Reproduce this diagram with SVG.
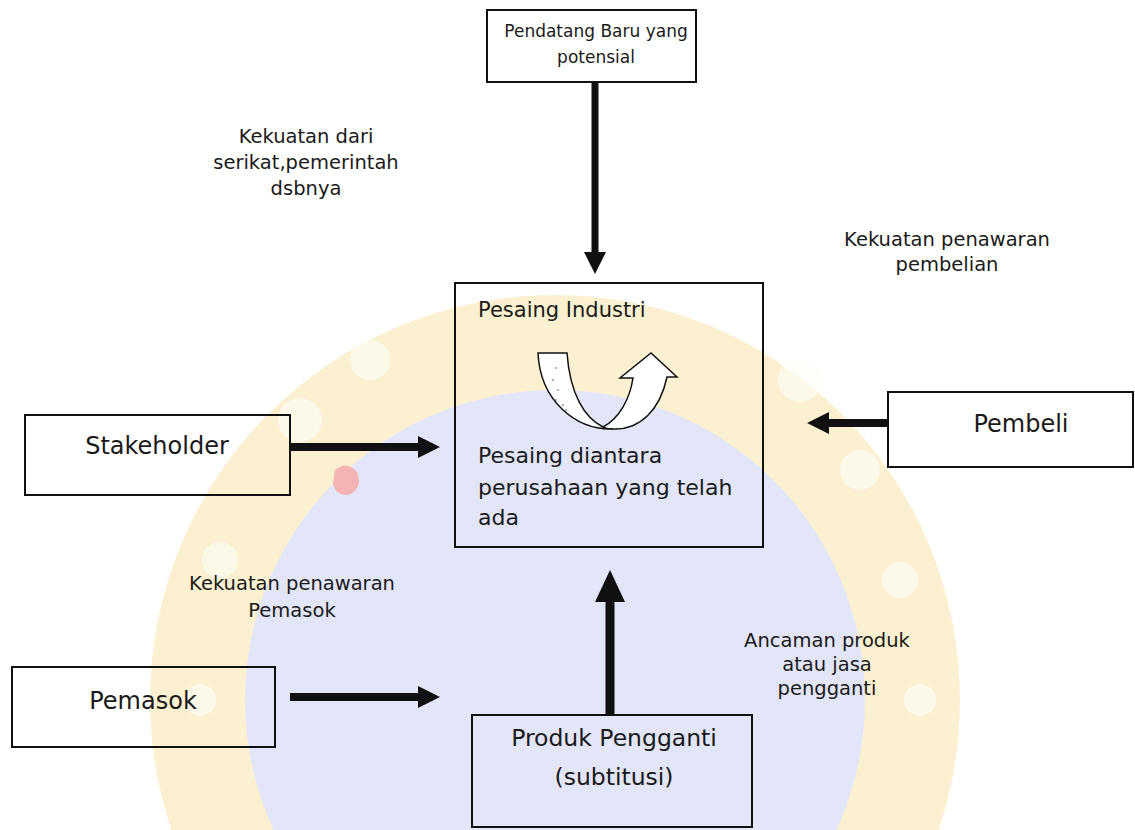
<svg xmlns="http://www.w3.org/2000/svg" width="1135" height="830" viewBox="0 0 1135 830">
<style>
.box{fill:none;stroke:#111;stroke-width:2}
.t{font-family:"DejaVu Sans","Liberation Sans",sans-serif;fill:#1a1a1a}
.lbl{font-size:19.5px;text-anchor:middle}
.conn{stroke:#111;fill:none}
.orn{fill:#fffdf2;opacity:0.6}
</style>
<defs>
<marker id="ah" viewBox="0 0 22 22" refX="0" refY="11" markerWidth="22" markerHeight="22" markerUnits="userSpaceOnUse" orient="auto"><path d="M0,0 L22,11 L0,22 Z" fill="#111"/></marker>
<marker id="ahBig" viewBox="0 0 32 30" refX="0" refY="15" markerWidth="32" markerHeight="30" markerUnits="userSpaceOnUse" orient="auto"><path d="M0,0 L32,15 L0,30 Z" fill="#111"/></marker>
</defs>
<rect width="1135" height="830" fill="#fff"/>
<g id="watermark" opacity="0.45">
<circle cx="555" cy="700" r="405" fill="#f8e29a"/>
<circle cx="555" cy="700" r="310" fill="#c3c8f0"/>
<g class="orn">
<circle cx="300" cy="420" r="22"/><circle cx="370" cy="360" r="20"/><circle cx="800" cy="380" r="22"/><circle cx="860" cy="470" r="20"/>
<circle cx="220" cy="560" r="18"/><circle cx="900" cy="580" r="18"/><circle cx="200" cy="700" r="16"/><circle cx="920" cy="700" r="16"/>
</g>
<path d="M335,470 q12,-10 22,2 q6,14 -6,22 q-14,4 -18,-10 z" fill="#e85a5a"/>
</g>
<g id="connectors">
<path class="conn" d="M595,82 V252" stroke-width="7" marker-end="url(#ah)"/>
<path class="conn" d="M290,447 H418" stroke-width="8" marker-end="url(#ah)"/>
<path class="conn" d="M888,423 H829" stroke-width="8" marker-end="url(#ah)"/>
<path class="conn" d="M290,697 H418" stroke-width="8" marker-end="url(#ah)"/>
<path class="conn" d="M610,715 V602" stroke-width="9" marker-end="url(#ahBig)"/>
</g>
<g id="pendatang">
<rect class="box" x="487" y="10" width="209" height="72"/>
<text class="t" x="596" y="37" font-size="17" text-anchor="middle">Pendatang Baru yang</text>
<text class="t" x="596" y="63" font-size="17" text-anchor="middle">potensial</text>
</g>
<g id="pesaing">
<rect class="box" x="455" y="283" width="308" height="264"/>
<text class="t" x="478" y="317" font-size="21">Pesaing Industri</text>
<path d="M538,353 L567,353 C570,395 585,418 603,427 C620,418 630,398 633,378 L620,378 L651,353 L677,377 L667,377 C660,410 640,430 613,429 C575,430 540,400 538,353 Z" fill="#fff" stroke="#111" stroke-width="1.5"/>
<path d="M603,427 C608,429 610,429 613,429" fill="none" stroke="#111" stroke-width="1.2"/>
<g fill="#555"><circle cx="556" cy="368" r="0.8"/><circle cx="553" cy="380" r="0.8"/><circle cx="558" cy="390" r="0.8"/><circle cx="556" cy="400" r="0.8"/><circle cx="563" cy="405" r="0.8"/><circle cx="566" cy="410" r="0.8"/></g>
<text class="t" x="478" y="463" font-size="22">Pesaing diantara</text>
<text class="t" x="478" y="495" font-size="22">perusahaan yang telah</text>
<text class="t" x="478" y="525" font-size="22">ada</text>
</g>
<g id="stakeholder">
<rect class="box" x="25" y="415" width="265" height="80"/>
<text class="t" x="157" y="454" font-size="24" text-anchor="middle">Stakeholder</text>
</g>
<g id="pembeli">
<rect class="box" x="888" y="392" width="245" height="75"/>
<text class="t" x="1021" y="432" font-size="24" text-anchor="middle">Pembeli</text>
</g>
<g id="pemasok">
<rect class="box" x="12" y="667" width="263" height="80"/>
<text class="t" x="143" y="709" font-size="24" text-anchor="middle">Pemasok</text>
</g>
<g id="produk">
<rect class="box" x="472" y="715" width="280" height="112"/>
<text class="t" x="614" y="746" font-size="23.5" text-anchor="middle">Produk Pengganti</text>
<text class="t" x="614" y="785" font-size="23.5" text-anchor="middle">(subtitusi)</text>
</g>
<g id="labels">
<text class="t lbl" x="306" y="143">Kekuatan dari</text>
<text class="t lbl" x="306" y="169">serikat,pemerintah</text>
<text class="t lbl" x="306" y="195">dsbnya</text>
<text class="t lbl" x="947" y="246">Kekuatan penawaran</text>
<text class="t lbl" x="947" y="271">pembelian</text>
<text class="t lbl" x="292" y="590">Kekuatan penawaran</text>
<text class="t lbl" x="292" y="617">Pemasok</text>
<text class="t lbl" x="827" y="647">Ancaman produk</text>
<text class="t lbl" x="827" y="671">atau jasa</text>
<text class="t lbl" x="827" y="695">pengganti</text>
</g>
</svg>
